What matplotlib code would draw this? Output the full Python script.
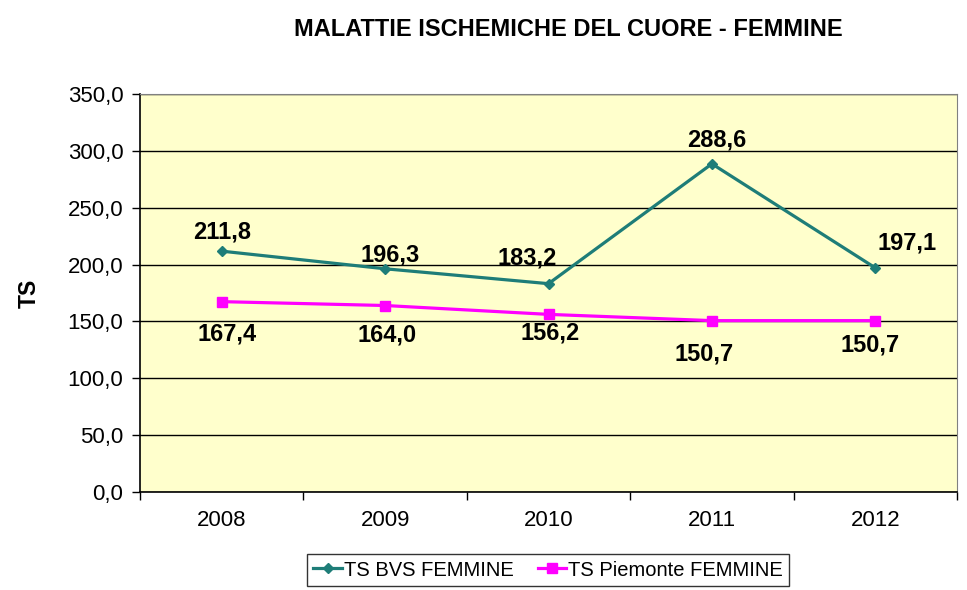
import matplotlib.pyplot as plt
import numpy as np

plt.rcParams['font.family'] = ['Liberation Sans', 'DejaVu Sans']

years = ['2008', '2009', '2010', '2011', '2012']
ts_bvs = [211.8, 196.3, 183.2, 288.6, 197.1]
ts_piemonte = [167.4, 164.0, 156.2, 150.7, 150.7]

# label offsets in pixels (as placed in the original)
bvs_off = [(0, 19), (5, 14), (-21, 26), (5, 24), (32, 25)]
pie_off = [(5, -32), (2, -29), (2, -19), (-8, -33), (-5, -24)]

teal = '#1E7D78'
magenta = '#FF00FF'


def fmt(v):
    return '{:.1f}'.format(v).replace('.', ',')


fig = plt.figure(figsize=(9.67, 5.90), dpi=100)
ax = fig.add_axes([140 / 967, 1 - 492 / 590, 817 / 967, 398 / 590])
ax.set_facecolor('#FFFFCC')

x = np.arange(len(years))
l1, = ax.plot(x, ts_bvs, color=teal, lw=2.3, marker='D', markersize=5,
              label='TS BVS FEMMINE', zorder=3)
l2, = ax.plot(x, ts_piemonte, color=magenta, lw=2.3, marker='s', markersize=7,
              label='TS Piemonte FEMMINE', zorder=3)

for i, v in enumerate(ts_bvs):
    ax.annotate(fmt(v), (x[i], v), xytext=bvs_off[i], textcoords='offset pixels',
                ha='center', va='center', fontsize=17, fontweight='bold')
for i, v in enumerate(ts_piemonte):
    ax.annotate(fmt(v), (x[i], v), xytext=pie_off[i], textcoords='offset pixels',
                ha='center', va='center', fontsize=17, fontweight='bold')

ax.set_xlim(-0.5, len(years) - 0.5)
ax.set_ylim(0, 350)
ax.set_yticks(np.arange(0, 351, 50))
ax.set_yticklabels([fmt(v) for v in np.arange(0, 351, 50)], fontsize=16)
ax.set_xticks(x)
ax.set_xticklabels(years, fontsize=16)
ax.set_xticks(np.arange(-0.5, len(years), 1), minor=True)
ax.tick_params(axis='x', which='major', length=0, pad=13)
ax.tick_params(axis='x', which='minor', length=6, direction='out', width=1)
ax.tick_params(axis='y', length=6, direction='out', width=1, pad=6)
ax.grid(axis='y', color='black', lw=1)
ax.set_axisbelow(True)

for s in ['top', 'right']:
    ax.spines[s].set_color('#808080')
for s in ['left', 'bottom']:
    ax.spines[s].set_color('black')
    ax.spines[s].set_linewidth(1.2)

ax.set_ylabel('TS', fontsize=16.5, fontweight='bold')
ax.yaxis.set_label_coords(-99 / 817, 0.5)

fig.text(568 / 967, 1 - 29 / 590, 'MALATTIE ISCHEMICHE DEL CUORE - FEMMINE',
         ha='center', va='center', fontsize=17, fontweight='bold')

leg = fig.legend(handles=[l1, l2], loc='center', bbox_to_anchor=(548 / 967, 1 - 570 / 590),
                 ncol=2, fontsize=14.5, frameon=True, fancybox=False,
                 handlelength=1.4, handletextpad=0.1, columnspacing=1.2,
                 borderpad=0.3, edgecolor='black')
leg.get_frame().set_linewidth(1)

fig.savefig('out.png', dpi=100)
